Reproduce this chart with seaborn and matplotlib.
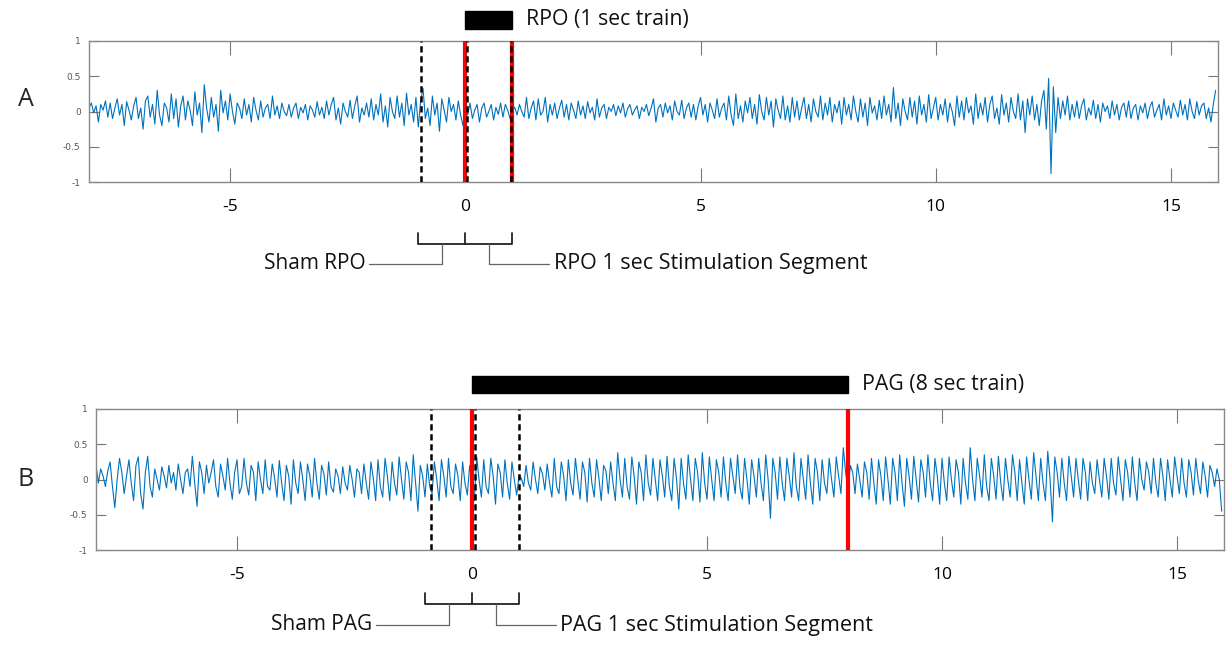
import numpy as np
import pandas as pd
import matplotlib
matplotlib.use("Agg")
import matplotlib.pyplot as plt
import matplotlib.transforms as mtransforms
import seaborn as sns

# signals, 20 samples per second, one row per second (-8 .. 15)
fs = 20
t_start = -8

rpo_signal = [
    0.05, 0.12, -0.02, 0.08, -0.15, 0.1, 0.02, 0.15, -0.08, 0.12, -0.1, 0.05, 0.18, -0.05, 0.1, -0.2, 0.14, 0.02, -0.12, 0.08,
    0.2, -0.1, 0.05, -0.25, 0.15, 0.22, -0.08, 0.1, -0.18, 0.3, -0.05, -0.2, 0.12, 0.05, -0.15, 0.25, -0.1, 0.18, -0.22, 0.08,
    0.22, -0.12, 0.15, 0.02, -0.2, 0.28, -0.05, 0.12, -0.3, 0.38, 0.05, -0.15, 0.2, -0.08, 0.1, -0.28, 0.3, -0.02, 0.15, -0.12,
    0.25, 0.0, -0.18, 0.12, 0.05, -0.1, 0.18, -0.05, 0.1, -0.15, 0.2, 0.02, -0.12, 0.15, -0.08, 0.05, 0.1, -0.1, 0.22, -0.05,
    0.08, -0.1, 0.12, 0.0, -0.06, 0.1, -0.08, 0.05, 0.12, -0.1, 0.06, -0.02, 0.1, -0.12, 0.08, 0.02, -0.08, 0.14, -0.05, 0.06,
    -0.1, 0.15, -0.05, 0.1, 0.2, -0.12, 0.05, -0.18, 0.12, 0.0, -0.08, 0.16, -0.1, 0.08, 0.22, -0.15, 0.05, -0.05, 0.12, -0.08,
    0.18, -0.12, 0.1, -0.05, 0.25, -0.15, 0.08, -0.22, 0.2, 0.0, -0.1, 0.22, -0.08, 0.12, -0.2, 0.26, -0.05, 0.1, -0.15, 0.2,
    -0.22, 0.15, 0.33, -0.1, 0.05, -0.2, 0.22, -0.05, 0.12, -0.28, 0.18, 0.02, -0.15, 0.2, 0.0, 0.1, -0.12, 0.15, -0.05, -0.2,
    0.08, -0.05, 0.12, -0.1, 0.02, 0.1, -0.15, 0.05, 0.12, -0.08, 0.0, 0.1, -0.12, 0.06, -0.04, 0.12, -0.08, 0.1, 0.02, -0.1,
    0.02, 0.06, -0.05, 0.1, 0.0, -0.08, 0.2, -0.1, 0.05, 0.15, -0.12, 0.18, -0.05, 0.0, 0.2, -0.15, 0.1, -0.05, 0.12, -0.1,
    0.05, 0.16, -0.08, 0.1, -0.12, 0.12, 0.02, -0.1, 0.15, -0.05, 0.08, -0.1, 0.14, -0.02, 0.06, -0.12, 0.18, -0.08, 0.05, 0.1,
    -0.1, 0.06, 0.0, 0.1, -0.06, 0.08, -0.02, 0.12, -0.08, 0.04, 0.1, -0.05, 0.02, 0.08, -0.1, 0.06, 0.0, 0.1, -0.06, 0.05,
    0.18, -0.15, 0.05, 0.1, -0.08, 0.12, -0.02, 0.08, -0.12, 0.15, 0.0, -0.05, 0.16, -0.1, 0.05, 0.12, -0.08, 0.1, -0.12, 0.08,
    0.2, -0.05, 0.1, -0.15, 0.12, 0.02, -0.1, 0.18, -0.08, 0.05, 0.12, -0.12, 0.22, -0.05, -0.2, 0.25, -0.1, 0.08, -0.15, 0.15,
    -0.02, 0.2, -0.1, 0.1, -0.18, 0.24, 0.0, -0.12, 0.2, -0.05, 0.15, -0.22, 0.18, 0.02, -0.1, 0.22, -0.12, 0.08, -0.15, 0.2,
    -0.08, 0.15, -0.12, 0.05, 0.2, -0.1, 0.1, -0.15, 0.18, 0.0, -0.08, 0.22, -0.12, 0.12, -0.05, 0.2, -0.15, 0.1, -0.02, 0.15,
    -0.18, 0.2, -0.05, 0.1, -0.12, 0.22, 0.0, -0.15, 0.18, -0.08, 0.12, -0.2, 0.2, -0.02, 0.08, -0.12, 0.16, -0.1, 0.22, -0.05,
    0.1, -0.15, 0.34, -0.1, 0.12, -0.2, 0.18, 0.0, -0.12, 0.2, -0.08, 0.15, -0.18, 0.22, -0.05, 0.1, -0.15, 0.24, -0.1, 0.05,
    0.2, -0.12, 0.1, -0.05, 0.18, -0.15, 0.12, 0.0, -0.2, 0.22, -0.08, 0.15, -0.12, 0.2, -0.02, 0.08, -0.18, 0.25, -0.1, 0.12,
    -0.05, 0.2, -0.15, 0.1, 0.22, -0.1, 0.05, -0.18, 0.24, -0.05, 0.12, -0.15, 0.2, 0.0, -0.1, 0.25, -0.12, 0.15, -0.3, 0.18,
    -0.05, 0.22, -0.12, 0.1, -0.2, 0.15, 0.3, -0.25, 0.47, -0.88, 0.35, -0.3, 0.2, -0.1, 0.15, -0.05, 0.22, -0.12, 0.1, -0.08,
    0.15, -0.1, 0.08, 0.18, -0.12, 0.05, -0.05, 0.16, -0.1, 0.1, -0.15, 0.12, 0.0, 0.08, -0.1, 0.15, -0.05, 0.1, -0.12, 0.06,
    0.12, -0.08, 0.15, -0.1, 0.05, 0.1, -0.12, 0.08, -0.02, 0.12, -0.1, 0.06, 0.14, -0.08, 0.02, 0.1, -0.12, 0.18, -0.05, 0.08,
    -0.1, 0.12, 0.02, -0.08, 0.16, -0.05, 0.1, -0.12, 0.18, 0.0, -0.1, 0.14, -0.05, 0.08, 0.12, -0.1, 0.05, -0.15, 0.1, 0.3,
]

pag_signal = [
    0.2, -0.05, 0.15, 0.05, -0.1, 0.12, 0.25, -0.1, -0.4, 0.0, 0.3, 0.1, -0.2, 0.05, 0.28, -0.05, -0.3, 0.2, 0.32, -0.2,
    -0.42, 0.1, 0.33, -0.1, -0.25, 0.15, 0.0, -0.15, 0.18, 0.05, -0.12, 0.2, -0.05, 0.1, -0.15, 0.22, 0.0, -0.2, 0.1, 0.15,
    -0.1, 0.33, -0.05, -0.38, 0.25, 0.1, -0.2, 0.2, -0.05, 0.1, 0.28, -0.1, -0.25, 0.22, 0.05, -0.15, 0.3, -0.05, -0.28, 0.1,
    0.28, -0.2, -0.1, 0.3, -0.05, -0.22, 0.2, 0.1, -0.3, 0.25, 0.0, -0.2, 0.28, -0.1, -0.15, 0.22, 0.02, -0.25, 0.27, -0.05,
    -0.3, 0.2, 0.05, -0.35, 0.28, -0.05, -0.2, 0.25, 0.0, -0.3, 0.22, 0.05, -0.25, 0.3, -0.05, -0.28, 0.2, 0.08, -0.22, 0.25,
    -0.1, -0.18, 0.15, 0.05, -0.2, 0.18, -0.05, -0.15, 0.2, 0.0, -0.25, 0.15, 0.1, -0.2, 0.22, -0.05, -0.28, 0.25, 0.02, -0.3,
    0.28, -0.1, -0.25, 0.3, 0.05, -0.3, 0.25, -0.05, -0.22, 0.32, 0.0, -0.28, 0.25, 0.1, -0.3, 0.35, -0.05, -0.45, 0.2, 0.05,
    -0.25, 0.22, -0.1, -0.2, 0.25, 0.0, -0.3, 0.28, 0.05, -0.25, 0.3, -0.1, -0.2, 0.22, 0.05, -0.3, 0.25, -0.05, -0.22, 0.2,
    -0.05, -0.3, 0.32, 0.0, -0.25, 0.28, -0.1, -0.2, 0.3, 0.05, -0.35, 0.22, 0.1, -0.25, 0.28, -0.05, -0.28, 0.25, 0.0, -0.22,
    0.05, 0.02, -0.1, 0.2, -0.05, -0.15, 0.25, 0.0, -0.2, 0.18, 0.08, -0.15, 0.22, -0.05, -0.25, 0.3, -0.1, -0.2, 0.25, 0.05,
    -0.3, 0.28, -0.05, -0.22, 0.3, 0.0, -0.28, 0.25, 0.1, -0.32, 0.3, -0.05, -0.25, 0.28, 0.02, -0.3, 0.2, 0.12, -0.2, 0.25,
    -0.05, -0.3, 0.38, 0.0, -0.25, 0.3, -0.1, -0.28, 0.32, 0.05, -0.35, 0.25, 0.1, -0.3, 0.35, -0.05, -0.22, 0.3, 0.0, -0.3,
    0.28, 0.05, -0.25, 0.33, -0.1, -0.3, 0.3, 0.02, -0.42, 0.3, -0.05, -0.28, 0.35, 0.0, -0.3, 0.3, 0.1, -0.32, 0.38, -0.05,
    -0.28, 0.32, 0.0, -0.3, 0.28, 0.1, -0.25, 0.32, -0.05, -0.3, 0.3, 0.05, -0.2, 0.35, -0.1, -0.28, 0.3, 0.0, -0.35, 0.28,
    0.05, -0.25, 0.3, -0.05, -0.3, 0.35, 0.0, -0.55, 0.3, 0.1, -0.28, 0.32, -0.05, -0.3, 0.3, 0.05, -0.25, 0.38, -0.1, -0.3,
    0.3, 0.0, -0.28, 0.35, -0.05, -0.35, 0.3, 0.1, -0.3, 0.28, -0.05, -0.2, 0.3, 0.0, -0.25, 0.32, 0.05, -0.2, 0.45, 0.1,
    -0.15, 0.2, 0.1, -0.2, 0.22, 0.0, -0.25, 0.25, 0.1, -0.28, 0.3, -0.05, -0.35, 0.28, 0.05, -0.3, 0.32, 0.0, -0.35, 0.3,
    0.1, -0.3, 0.35, -0.05, -0.38, 0.3, 0.05, -0.28, 0.33, 0.0, -0.32, 0.28, 0.1, -0.25, 0.35, -0.05, -0.3, 0.3, 0.05, -0.35,
    0.3, -0.05, -0.3, 0.32, 0.0, -0.25, 0.28, 0.1, -0.35, 0.3, -0.05, -0.28, 0.45, 0.0, -0.3, 0.3, 0.05, -0.25, 0.35, -0.1,
    -0.3, 0.3, 0.05, -0.28, 0.33, -0.05, -0.3, 0.3, 0.0, -0.25, 0.35, 0.1, -0.3, 0.28, -0.05, -0.35, 0.32, 0.0, -0.28, 0.38,
    0.05, -0.3, 0.3, -0.05, -0.3, 0.4, 0.0, -0.6, 0.32, 0.1, -0.25, 0.3, -0.05, -0.3, 0.33, 0.05, -0.25, 0.3, 0.0, -0.28,
    0.3, 0.1, -0.3, 0.25, -0.05, -0.2, 0.28, 0.0, -0.25, 0.3, 0.05, -0.28, 0.3, -0.05, -0.22, 0.32, 0.0, -0.3, 0.28, 0.1,
    -0.25, 0.32, -0.05, -0.3, 0.3, 0.0, -0.15, 0.25, 0.1, -0.2, 0.3, -0.05, -0.25, 0.3, 0.05, -0.3, 0.28, 0.0, -0.25, 0.32,
    0.05, -0.2, 0.3, -0.05, -0.25, 0.28, 0.1, -0.22, 0.3, 0.0, -0.2, 0.25, 0.05, -0.25, 0.2, 0.1, -0.1, 0.15, 0.0, -0.45,
]

x_ticks = [-5, 0, 5, 10, 15]
y_ticks = [-1, -0.5, 0, 0.5, 1]
y_tick_labels = ["-1", "-0.5", "0", "0.5", "1"]

# events per panel: red solid lines, black dashed lines, train length
rpo_red = [0, 1]
rpo_dashed = [-0.95, 0.03, 0.97]
rpo_train = 1
pag_red = [0, 8]
pag_dashed = [-0.88, 0.06, 1.0]
pag_train = 8

sns.set_style("white")
plt.rcParams["font.family"] = ["Open Sans", "DejaVu Sans"]

sig_color = "#0072BD"
W, H = 1227, 650
fig = plt.figure(figsize=(W / 100, H / 100), dpi=100)


def fy(py):
    return 1 - py / H


def make_panel(rect, signal, reds, dashes, train, train_text, sham_text, seg_text,
               letter, letter_y, bar_y, brk_y, lead_y):
    ax = fig.add_axes(rect)
    df = pd.DataFrame({"t": np.arange(len(signal)) / fs + t_start, "v": signal})
    sns.lineplot(data=df, x="t", y="v", ax=ax, color=sig_color, linewidth=0.8)
    for xd in dashes:
        ax.axvline(xd, color="black", linestyle=(0, (2.5, 1.5)), linewidth=1.8, zorder=4)
    for xr in reds:
        ax.axvline(xr, color="red", linewidth=3, zorder=3)
    ax.set_xlim(-8, 16)
    ax.set_ylim(-1, 1)
    ax.set_xticks(x_ticks)
    ax.set_xticklabels([str(v) for v in x_ticks], fontsize=12.5, color="black")
    ax.set_yticks(y_ticks)
    ax.set_yticklabels(y_tick_labels, fontsize=6.5, color="#555555", family="DejaVu Sans")
    ax.tick_params(axis="x", direction="in", length=10, top=True, bottom=True,
                   pad=12, color="#777777")
    ax.tick_params(axis="y", direction="in", length=7, left=True, right=True,
                   pad=6, color="#777777")
    ax.set_xlabel("")
    ax.set_ylabel("")
    for sp in ax.spines.values():
        sp.set_color("#888888")
        sp.set_linewidth(1.0)

    tr = mtransforms.blended_transform_factory(ax.transData, fig.transFigure)
    # stimulation train bar
    ax.add_patch(plt.Rectangle((0, fy(bar_y + 8.5)), train, 17 / H, transform=tr,
                               color="black", clip_on=False))
    ax.text(train + 0.3, fy(bar_y), train_text, transform=tr, fontsize=15.3,
            va="center", ha="left", color="#111111")
    # brackets under the axis
    top, bot = fy(brk_y), fy(brk_y + 11)
    kw = dict(transform=tr, color="#222222", linewidth=1.3, clip_on=False)
    ax.plot([-1, -1, 0, 0], [top, bot, bot, top], **kw)
    ax.plot([0, 0, 1, 1], [bot, bot, bot, top], **kw)
    # leader lines
    lk = dict(transform=tr, color="#666666", linewidth=0.9, clip_on=False)
    ax.plot([-0.5, -0.5, -2.05], [bot, fy(lead_y), fy(lead_y)], **lk)
    ax.plot([0.5, 0.5, 1.78], [bot, fy(lead_y), fy(lead_y)], **lk)
    ax.text(-2.12, fy(lead_y), sham_text, transform=tr, fontsize=15,
            ha="right", va="center", color="#111111")
    ax.text(1.88, fy(lead_y), seg_text, transform=tr, fontsize=15.5,
            ha="left", va="center", color="#111111")
    fig.text(18 / W, fy(letter_y), letter, fontsize=18, ha="left", va="center")
    return ax


make_panel([89 / W, fy(182), 1129 / W, 141 / H], rpo_signal, rpo_red, rpo_dashed,
           rpo_train, "RPO (1 sec train)", "Sham RPO", "RPO 1 sec Stimulation Segment",
           "A", 100, 20, 233, 264)
make_panel([96 / W, fy(550), 1128 / W, 141 / H], pag_signal, pag_red, pag_dashed,
           pag_train, "PAG (8 sec train)", "Sham PAG", "PAG 1 sec Stimulation Segment",
           "B", 480, 384, 593, 625)

fig.savefig("out.png", dpi=100)
